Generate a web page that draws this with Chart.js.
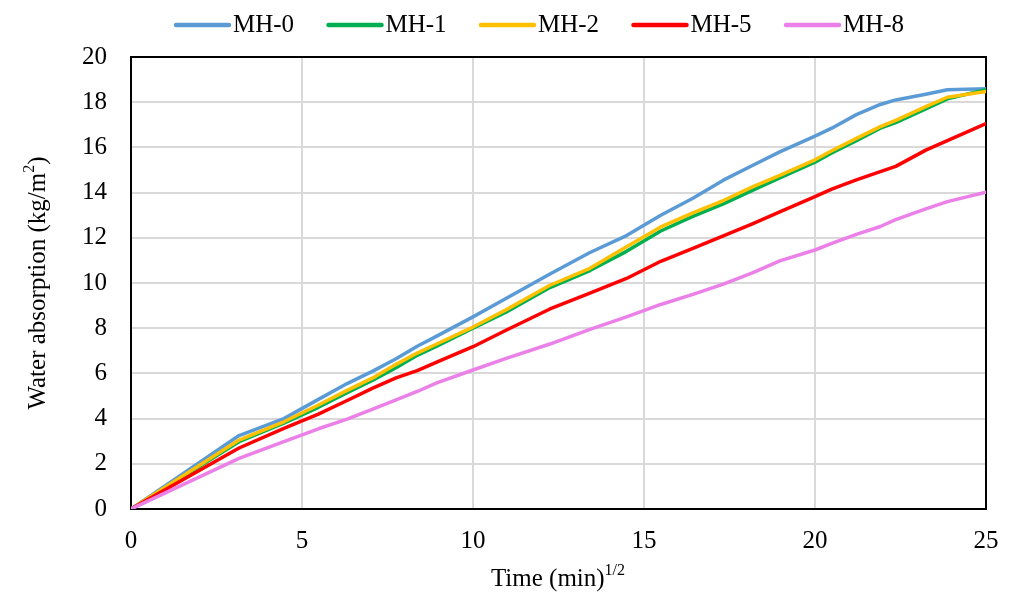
<!DOCTYPE html>
<html>
<head>
<meta charset="utf-8">
<script src="https://cdn.jsdelivr.net/npm/chart.js@4.4.1/dist/chart.umd.min.js"></script>
<style>
  html, body { margin: 0; padding: 0; background: #fff; }
  #wrap { width: 1009px; height: 592px; }
</style>
</head>
<body>
<div id="wrap"><canvas id="chart" width="1009" height="592"></canvas></div>
<script>
// square root of time, (min)^1/2
const time_sqrt = [0, 3.16, 4.47, 5.48, 6.32, 7.07, 7.75, 8.37, 8.94, 10, 10.95, 12.25, 13.42, 14.49,
  15.49, 16.43, 17.32, 18.17, 18.97, 20, 20.49, 21.21, 21.91, 22.36, 23.24, 23.87, 25];

// water absorption, kg/m2
const mh0 = [0, 3.25, 4.0, 4.85, 5.55, 6.1, 6.65, 7.2, 7.65, 8.5, 9.3, 10.4, 11.35, 12.1,
  13.0, 13.75, 14.55, 15.2, 15.8, 16.5, 16.85, 17.45, 17.9, 18.1, 18.35, 18.55, 18.6];
const mh1 = [0, 2.98, 3.8, 4.5, 5.15, 5.7, 6.25, 6.8, 7.2, 8.0, 8.7, 9.8, 10.55, 11.4,
  12.3, 12.95, 13.5, 14.1, 14.65, 15.35, 15.75, 16.3, 16.85, 17.1, 17.7, 18.15, 18.55];
const mh2 = [0, 3.05, 3.86, 4.6, 5.25, 5.8, 6.4, 6.9, 7.3, 8.05, 8.8, 9.9, 10.65, 11.6,
  12.48, 13.1, 13.65, 14.25, 14.76, 15.45, 15.85, 16.4, 16.92, 17.2, 17.8, 18.22, 18.47];
const mh5 = [0, 2.7, 3.57, 4.2, 4.8, 5.35, 5.8, 6.12, 6.5, 7.18, 7.9, 8.85, 9.55, 10.2,
  10.96, 11.53, 12.08, 12.62, 13.15, 13.82, 14.15, 14.56, 14.93, 15.16, 15.88, 16.3, 17.05];
const mh8 = [0, 2.24, 2.98, 3.55, 3.98, 4.42, 4.83, 5.2, 5.58, 6.15, 6.65, 7.3, 7.95, 8.5,
  9.05, 9.5, 9.95, 10.45, 10.98, 11.46, 11.75, 12.15, 12.5, 12.8, 13.28, 13.6, 14.02];

const series_names = ['MH-0', 'MH-1', 'MH-2', 'MH-5', 'MH-8'];
const series_values = [mh0, mh1, mh2, mh5, mh8];
const series_colors = ['#5b9bd5', '#00b050', '#ffc000', '#ff0000', '#ea80e8'];

const serif = "'Liberation Serif', 'Times New Roman', serif";

Chart.defaults.font.family = serif;
Chart.defaults.font.size = 25;
Chart.defaults.color = '#000';

// text with raised pieces, centred on (cx, cy)
function drawRich(ctx, parts, cx, cy) {
  let total = 0;
  parts.forEach(p => {
    ctx.font = p.size + 'px ' + serif;
    p.w = ctx.measureText(p.text).width;
    total += p.w;
  });
  let x = cx - total / 2;
  parts.forEach(p => {
    ctx.font = p.size + 'px ' + serif;
    ctx.fillText(p.text, x, cy - (p.rise || 0));
    x += p.w;
  });
}

const decorations = {
  id: 'decorations',
  beforeDatasetsDraw(chart) {
    const { ctx, chartArea: a } = chart;
    ctx.save();
    ctx.strokeStyle = '#000';
    ctx.lineWidth = 2;
    ctx.strokeRect(a.left, a.top, a.right - a.left, a.bottom - a.top);
    ctx.restore();
  },
  afterDraw(chart) {
    const ctx = chart.ctx;
    ctx.save();
    ctx.fillStyle = '#000';
    ctx.textBaseline = 'middle';
    ctx.textAlign = 'left';

    // legend row
    chart.data.datasets.forEach((ds, i) => {
      const x0 = 176 + i * 152.5;
      ctx.strokeStyle = ds.borderColor;
      ctx.lineWidth = 4.5;
      ctx.lineCap = 'round';
      ctx.beginPath();
      ctx.moveTo(x0, 25);
      ctx.lineTo(x0 + 53, 25);
      ctx.stroke();
      ctx.font = '25px ' + serif;
      ctx.fillText(ds.label, x0 + 57, 25);
    });

    // axis titles
    drawRich(ctx, [
      { text: 'Time (min)', size: 25 },
      { text: '1/2', size: 16, rise: 8 }
    ], 558, 579);

    ctx.translate(38, 283);
    ctx.rotate(-Math.PI / 2);
    drawRich(ctx, [
      { text: 'Water absorption (kg/m', size: 25 },
      { text: '2', size: 16, rise: 8 },
      { text: ')', size: 25 }
    ], 0, 0);
    ctx.restore();
  }
};

const ctx = document.getElementById('chart').getContext('2d');

new Chart(ctx, {
  type: 'line',
  data: {
    datasets: series_names.map((name, i) => ({
      label: name,
      data: time_sqrt.map((t, k) => ({ x: t, y: series_values[i][k] })),
      borderColor: series_colors[i],
      backgroundColor: series_colors[i],
      borderWidth: 3.5,
      borderCapStyle: 'round',
      borderJoinStyle: 'round',
      pointRadius: 0,
      tension: 0,
      order: series_names.length - i
    }))
  },
  options: {
    responsive: false,
    animation: false,
    layout: { padding: { top: 57, right: 23, left: 0, bottom: 0 } },
    plugins: {
      legend: { display: false },
      tooltip: { enabled: false }
    },
    scales: {
      x: {
        type: 'linear',
        min: 0,
        max: 25,
        ticks: { stepSize: 5, padding: 17, maxRotation: 0 },
        grid: { color: '#d9d9d9', lineWidth: 2, drawTicks: false },
        border: { color: '#000', width: 2 },
        afterFit: (scale) => {
          scale.height = 83;
          scale.paddingLeft = 0;
          scale.paddingRight = 0;
        }
      },
      y: {
        min: 0,
        max: 20,
        ticks: { stepSize: 2, padding: 24 },
        grid: { color: '#d9d9d9', lineWidth: 2, drawTicks: false },
        border: { color: '#000', width: 2 },
        afterFit: (scale) => { scale.width = 131; }
      }
    }
  },
  plugins: [decorations]
});
</script>
</body>
</html>
